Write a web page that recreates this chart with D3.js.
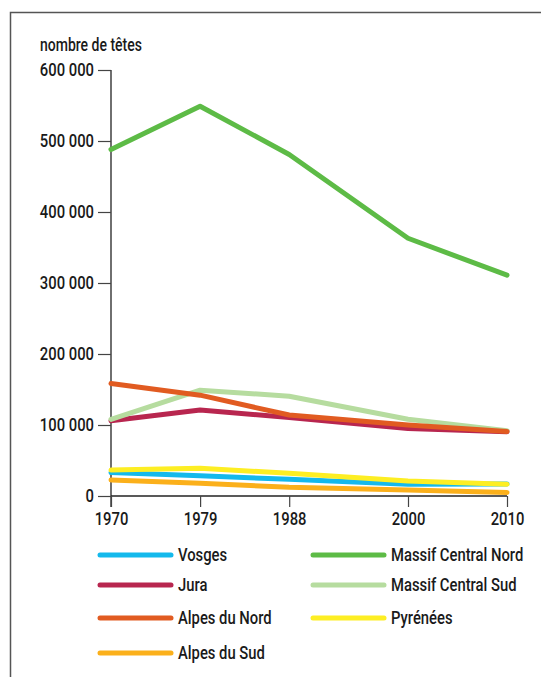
<!DOCTYPE html>
<html>
<head>
<meta charset="utf-8">
<script src="https://cdn.jsdelivr.net/npm/d3@7"></script>
<style>
  body { margin: 0; background: #fff; }
  svg text { font-family: Roboto, "Liberation Sans", sans-serif; font-weight: 500; fill: #1a1a1a; }
</style>
</head>
<body>
<div id="chart"></div>
<script>
// years on the x axis
const years = [1970, 1979, 1988, 2000, 2010];
const yTicks = [0, 100000, 200000, 300000, 400000, 500000, 600000];

// head counts per massif
const vosges = [33000, 28500, 23500, 16500, 17000];
const jura = [106000, 121000, 110500, 95000, 90500];
const alpesNord = [158500, 142000, 114000, 100000, 91000];
const alpesSud = [22500, 18000, 12300, 8500, 5000];
const mcNord = [488000, 549000, 481000, 363000, 311000];
const mcSud = [108000, 149000, 140500, 108000, 92000];
const pyrenees = [36500, 39000, 32000, 21000, 16500];

const series = [
    { name: "Alpes du Sud", values: alpesSud, color: "#fbb01b" },
    { name: "Vosges", values: vosges, color: "#14b9ec" },
    { name: "Pyrénées", values: pyrenees, color: "#fdee23" },
    { name: "Jura", values: jura, color: "#b8264f" },
    { name: "Massif Central Sud", values: mcSud, color: "#b6dc9f" },
    { name: "Alpes du Nord", values: alpesNord, color: "#e15b21" },
    { name: "Massif Central Nord", values: mcNord, color: "#5dbb46" }
];

// legend layout: two columns
const legendLeft = ["Vosges", "Jura", "Alpes du Nord", "Alpes du Sud"];
const legendRight = ["Massif Central Nord", "Massif Central Sud", "Pyrénées"];

const width = 541, height = 677;
const squeeze = 0.8; // no condensed font installed: narrow the glyphs instead

const svg = d3.select("#chart")
    .append("svg")
    .attr("width", width)
    .attr("height", height);

// frame (top and left edge)
svg.append("path")
    .attr("d", `M10.5,${height} V12.5 H${width}`)
    .attr("fill", "none")
    .attr("stroke", "#555")
    .attr("stroke-width", 1.5);

const x = d3.scaleLinear().domain([1970, 2010]).range([111, 507]);
const y = d3.scaleLinear().domain([0, 600000]).range([496, 70]);

const fmt = d => d3.format(",")(d).replace(/,/g, " ");

// y axis
const yAxis = svg.append("g")
    .attr("transform", "translate(111,0)")
    .call(d3.axisLeft(y).tickValues(yTicks).tickFormat(fmt).tickSize(13).tickPadding(4));
yAxis.select(".domain").attr("stroke", "#222").attr("stroke-width", 1.3).attr("d", "M0,70V507");
yAxis.selectAll(".tick line").attr("stroke", "#444").attr("stroke-width", 1.2);
yAxis.selectAll(".tick text").style("font-size", "18.5px").attr("fill", "#1a1a1a");

// x axis
const xAxis = svg.append("g")
    .attr("transform", "translate(0,496)")
    .call(d3.axisBottom(x).tickValues(years).tickFormat(d3.format("d")).tickSize(11).tickPadding(5));
xAxis.select(".domain").attr("stroke", "#222").attr("stroke-width", 1.3).attr("d", "M111,0H507");
xAxis.selectAll(".tick line").attr("stroke", "#444").attr("stroke-width", 1.2);
xAxis.selectAll(".tick text").style("font-size", "18.5px").attr("fill", "#1a1a1a");

svg.append("text")
    .attr("x", 40)
    .attr("y", 51)
    .style("font-size", "17.5px")
    .text("nombre de têtes");

// lines
const line = d3.line()
    .x((d, i) => x(years[i]))
    .y(d => y(d));

svg.selectAll(".series")
    .data(series)
    .enter()
    .append("path")
    .attr("class", "series")
    .attr("d", d => line(d.values))
    .attr("fill", "none")
    .attr("stroke", d => d.color)
    .attr("stroke-width", 5)
    .attr("stroke-linejoin", "round")
    .attr("stroke-linecap", "round");

// legend
const byName = {};
series.forEach(s => byName[s.name] = s);
const rowsY = [555, 585, 618, 653];

function legendColumn(names, x0) {
    const g = svg.append("g");
    names.forEach((n, i) => {
        g.append("line")
            .attr("x1", x0).attr("x2", x0 + 71)
            .attr("y1", rowsY[i]).attr("y2", rowsY[i])
            .attr("stroke", byName[n].color)
            .attr("stroke-width", 5)
            .attr("stroke-linecap", "round");
        g.append("text")
            .attr("x", x0 + 78)
            .attr("y", rowsY[i])
            .attr("dy", "0.35em")
            .style("font-size", "18.5px")
            .text(n);
    });
}
legendColumn(legendLeft, 100);
legendColumn(legendRight, 313);

// condense every label around its own anchor point
svg.selectAll("text").each(function() {
    const ax = +(this.getAttribute("x") || 0);
    d3.select(this).attr("transform", `translate(${ax * (1 - squeeze)},0) scale(${squeeze},1)`);
});
</script>
</body>
</html>
